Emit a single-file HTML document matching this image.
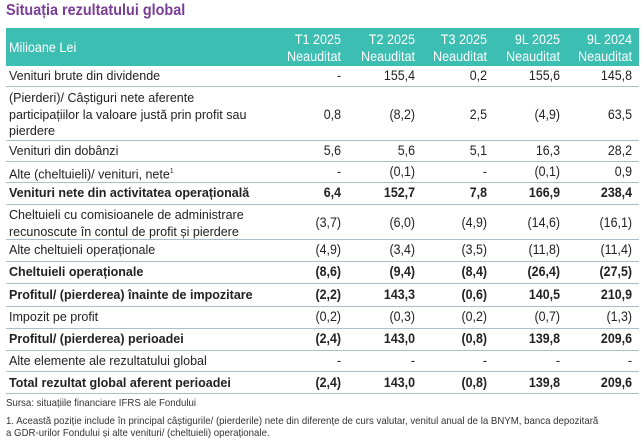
<!DOCTYPE html>
<html><head><meta charset="utf-8"><style>
body{margin:0;width:644px;height:442px;background:#fff;position:relative;overflow:hidden;font-family:"Liberation Sans",sans-serif;color:#222;}
.a{position:absolute;white-space:nowrap;}
.t{left:6px;top:2px;font-size:16px;font-weight:bold;color:#7a3d95;transform:scaleX(0.9);transform-origin:left;}
.hd{position:absolute;left:6px;top:28px;width:633px;height:38px;background:#3dbeb3;}
.h{color:#fff;font-size:14px;text-align:right;line-height:17px;transform:scaleX(0.9);transform-origin:right;}
.l{left:9px;font-size:13.2px;transform:scaleX(0.95);transform-origin:left;line-height:16.5px;}
.v{font-size:13.5px;text-align:right;width:70px;transform:scaleX(0.92);transform-origin:right;}
.b{font-weight:bold;}
.ln{position:absolute;left:6px;width:633px;height:1px;background:#aebccb;}
.f{left:6px;font-size:10.5px;color:#333;transform:scaleX(0.92);transform-origin:left;}
</style></head><body>
<div class="a t">Situația rezultatului global</div>
<div class="hd"></div>
<div class="a h" style="left:9px;top:39px;text-align:left;transform-origin:left">Milioane Lei</div>
<div class="a h" style="left:271px;width:70px;top:31px">T1 2025<br>Neauditat</div>
<div class="a h" style="left:345px;width:70px;top:31px">T2 2025<br>Neauditat</div>
<div class="a h" style="left:417px;width:70px;top:31px">T3 2025<br>Neauditat</div>
<div class="a h" style="left:490px;width:70px;top:31px">9L 2025<br>Neauditat</div>
<div class="a h" style="left:562px;width:70px;top:31px">9L 2024<br>Neauditat</div>

<div class="ln" style="top:86px"></div>
<div class="ln" style="top:140px"></div>
<div class="ln" style="top:161px"></div>
<div class="ln" style="top:182px"></div>
<div class="ln" style="top:204px"></div>
<div class="ln" style="top:239px"></div>
<div class="ln" style="top:261px"></div>
<div class="ln" style="top:283px"></div>
<div class="ln" style="top:306px"></div>
<div class="ln" style="top:328px"></div>
<div class="ln" style="top:350px"></div>
<div class="ln" style="top:371px"></div>
<div class="ln" style="top:393px"></div>

<div class="a l" style="top:68px">Venituri brute din dividende</div>
<div class="a l" style="top:90px">(Pierderi)/ Câștiguri nete aferente<br>participațiilor la valoare justă prin profit sau<br>pierdere</div>
<div class="a l" style="top:143px">Venituri din dobânzi</div>
<div class="a l" style="top:164px">Alte (cheltuieli)/ venituri, nete<sup style="font-size:7px">1</sup></div>
<div class="a l b" style="top:185px">Venituri nete din activitatea operațională</div>
<div class="a l" style="top:207px">Cheltuieli cu comisioanele de administrare<br>recunoscute în contul de profit și pierdere</div>
<div class="a l" style="top:242px">Alte cheltuieli operaționale</div>
<div class="a l b" style="top:264px">Cheltuieli operaționale</div>
<div class="a l b" style="top:287px">Profitul/ (pierderea) înainte de impozitare</div>
<div class="a l" style="top:309px">Impozit pe profit</div>
<div class="a l b" style="top:331px">Profitul/ (pierderea) perioadei</div>
<div class="a l" style="top:353px">Alte elemente ale rezultatului global</div>
<div class="a l b" style="top:375px">Total rezultat global aferent perioadei</div>

<div class="a v" style="left:271px;top:68px">-</div><div class="a v" style="left:345px;top:68px">155,4</div><div class="a v" style="left:417px;top:68px">0,2</div><div class="a v" style="left:490px;top:68px">155,6</div><div class="a v" style="left:562px;top:68px">145,8</div>
<div class="a v" style="left:271px;top:107px">0,8</div><div class="a v" style="left:345px;top:107px">(8,2)</div><div class="a v" style="left:417px;top:107px">2,5</div><div class="a v" style="left:490px;top:107px">(4,9)</div><div class="a v" style="left:562px;top:107px">63,5</div>
<div class="a v" style="left:271px;top:143px">5,6</div><div class="a v" style="left:345px;top:143px">5,6</div><div class="a v" style="left:417px;top:143px">5,1</div><div class="a v" style="left:490px;top:143px">16,3</div><div class="a v" style="left:562px;top:143px">28,2</div>
<div class="a v" style="left:271px;top:164px">-</div><div class="a v" style="left:345px;top:164px">(0,1)</div><div class="a v" style="left:417px;top:164px">-</div><div class="a v" style="left:490px;top:164px">(0,1)</div><div class="a v" style="left:562px;top:164px">0,9</div>
<div class="a v b" style="left:271px;top:185px">6,4</div><div class="a v b" style="left:345px;top:185px">152,7</div><div class="a v b" style="left:417px;top:185px">7,8</div><div class="a v b" style="left:490px;top:185px">166,9</div><div class="a v b" style="left:562px;top:185px">238,4</div>
<div class="a v" style="left:271px;top:215px">(3,7)</div><div class="a v" style="left:345px;top:215px">(6,0)</div><div class="a v" style="left:417px;top:215px">(4,9)</div><div class="a v" style="left:490px;top:215px">(14,6)</div><div class="a v" style="left:562px;top:215px">(16,1)</div>
<div class="a v" style="left:271px;top:242px">(4,9)</div><div class="a v" style="left:345px;top:242px">(3,4)</div><div class="a v" style="left:417px;top:242px">(3,5)</div><div class="a v" style="left:490px;top:242px">(11,8)</div><div class="a v" style="left:562px;top:242px">(11,4)</div>
<div class="a v b" style="left:271px;top:264px">(8,6)</div><div class="a v b" style="left:345px;top:264px">(9,4)</div><div class="a v b" style="left:417px;top:264px">(8,4)</div><div class="a v b" style="left:490px;top:264px">(26,4)</div><div class="a v b" style="left:562px;top:264px">(27,5)</div>
<div class="a v b" style="left:271px;top:287px">(2,2)</div><div class="a v b" style="left:345px;top:287px">143,3</div><div class="a v b" style="left:417px;top:287px">(0,6)</div><div class="a v b" style="left:490px;top:287px">140,5</div><div class="a v b" style="left:562px;top:287px">210,9</div>
<div class="a v" style="left:271px;top:309px">(0,2)</div><div class="a v" style="left:345px;top:309px">(0,3)</div><div class="a v" style="left:417px;top:309px">(0,2)</div><div class="a v" style="left:490px;top:309px">(0,7)</div><div class="a v" style="left:562px;top:309px">(1,3)</div>
<div class="a v b" style="left:271px;top:331px">(2,4)</div><div class="a v b" style="left:345px;top:331px">143,0</div><div class="a v b" style="left:417px;top:331px">(0,8)</div><div class="a v b" style="left:490px;top:331px">139,8</div><div class="a v b" style="left:562px;top:331px">209,6</div>
<div class="a v" style="left:271px;top:353px">-</div><div class="a v" style="left:345px;top:353px">-</div><div class="a v" style="left:417px;top:353px">-</div><div class="a v" style="left:490px;top:353px">-</div><div class="a v" style="left:562px;top:353px">-</div>
<div class="a v b" style="left:271px;top:375px">(2,4)</div><div class="a v b" style="left:345px;top:375px">143,0</div><div class="a v b" style="left:417px;top:375px">(0,8)</div><div class="a v b" style="left:490px;top:375px">139,8</div><div class="a v b" style="left:562px;top:375px">209,6</div>

<div class="a f" style="top:397px">Sursa: situațiile financiare IFRS ale Fondului</div>
<div class="a f" style="top:415px;line-height:12px">1. Această poziție include în principal câștigurile/ (pierderile) nete din diferențe de curs valutar, venitul anual de la BNYM, banca depozitară<br>a GDR-urilor Fondului și alte venituri/ (cheltuieli) operaționale.</div>
</body></html>
